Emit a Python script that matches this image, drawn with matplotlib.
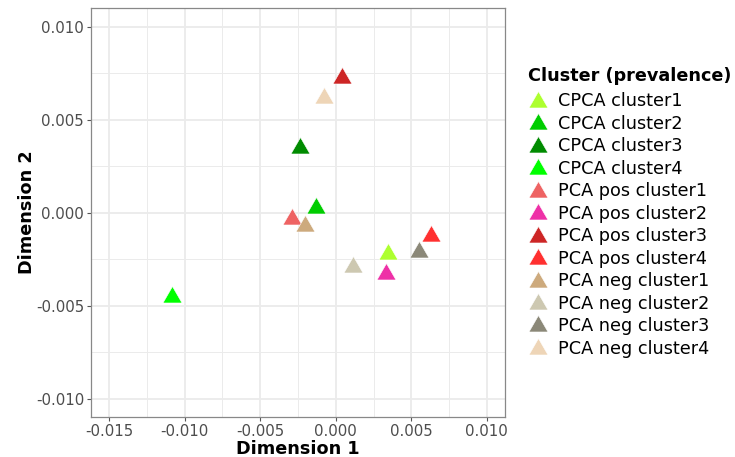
import matplotlib
matplotlib.use("Agg")
import matplotlib.pyplot as plt
from matplotlib.path import Path
from matplotlib.ticker import MultipleLocator, FormatStrFormatter
import numpy as np

plt.rcParams['font.family'] = ['DejaVu Sans']

clusters = ["CPCA cluster1", "CPCA cluster2", "CPCA cluster3", "CPCA cluster4",
            "PCA pos cluster1", "PCA pos cluster2", "PCA pos cluster3", "PCA pos cluster4",
            "PCA neg cluster1", "PCA neg cluster2", "PCA neg cluster3", "PCA neg cluster4"]
dim1 = [0.00347, -0.00130, -0.00234, -0.01084,
        -0.00289, 0.00331, 0.00040, 0.00627,
        -0.00201, 0.00115, 0.00548, -0.00077]
dim2 = [-0.00224, 0.00027, 0.00348, -0.00455,
        -0.00032, -0.00331, 0.00726, -0.00123,
        -0.00073, -0.00290, -0.00214, 0.00617]
colors = ["#ADFF2F", "#00CD00", "#008B00", "#00FF00",
          "#EE6363", "#EE30A7", "#CD2626", "#FF3030",
          "#CDAA7D", "#CDC8B1", "#8B8878", "#EED5B7"]
x_ticks = [-0.015, -0.010, -0.005, 0.000, 0.005, 0.010]
y_ticks = [-0.010, -0.005, 0.000, 0.005, 0.010]

tri = Path([(0, 1), (-0.866, -0.5), (0.866, -0.5), (0, 1)],
           [Path.MOVETO, Path.LINETO, Path.LINETO, Path.CLOSEPOLY])

fig = plt.figure(figsize=(7.35, 4.57), dpi=100)
ax = fig.add_axes([91/735, 1-416.7/457, (505-91)/735, (416.7-8.3)/457])

for name, x, y, c in zip(clusters, dim1, dim2, colors):
    ax.scatter([x], [y], s=250, marker=tri, color=c, edgecolors='white',
               linewidths=0.4, label=name, zorder=3)

ax.set_xlim(-0.0162, 0.0112)
ax.set_ylim(-0.01097, 0.01099)
ax.set_xticks(x_ticks)
ax.set_yticks(y_ticks)
ax.xaxis.set_major_formatter(FormatStrFormatter('%.3f'))
ax.yaxis.set_major_formatter(FormatStrFormatter('%.3f'))
ax.xaxis.set_minor_locator(MultipleLocator(0.0025))
ax.yaxis.set_minor_locator(MultipleLocator(0.0025))
ax.grid(which='major', color='#EBEBEB', linewidth=1.3, zorder=0)
ax.grid(which='minor', color='#EBEBEB', linewidth=0.7, zorder=0)
ax.set_axisbelow(True)
ax.tick_params(which='major', length=3, width=0.8, color='#555555',
               labelcolor='#4D4D4D', labelsize=10.8, pad=2)
ax.tick_params(which='minor', length=0)
for sp in ax.spines.values():
    sp.set_color('#888888')
    sp.set_linewidth(0.9)

ax.set_xlabel("Dimension 1", fontsize=12.7, fontweight='bold', labelpad=1)
ax.set_ylabel("Dimension 2", fontsize=12.7, fontweight='bold', labelpad=0)

leg = ax.legend(loc='upper left', bbox_to_anchor=(519/735, 1-58/457),
                bbox_transform=fig.transFigure, frameon=False,
                title="Cluster (prevalence)", fontsize=12.7,
                title_fontproperties={'weight': 'bold', 'size': 12.7},
                handletextpad=0.54, labelspacing=0.254, borderpad=0,
                handlelength=1.17, scatterpoints=1)
leg._legend_box.align = "left"
leg._legend_box.sep = 5.4

fig.savefig("out.png", dpi=100)
